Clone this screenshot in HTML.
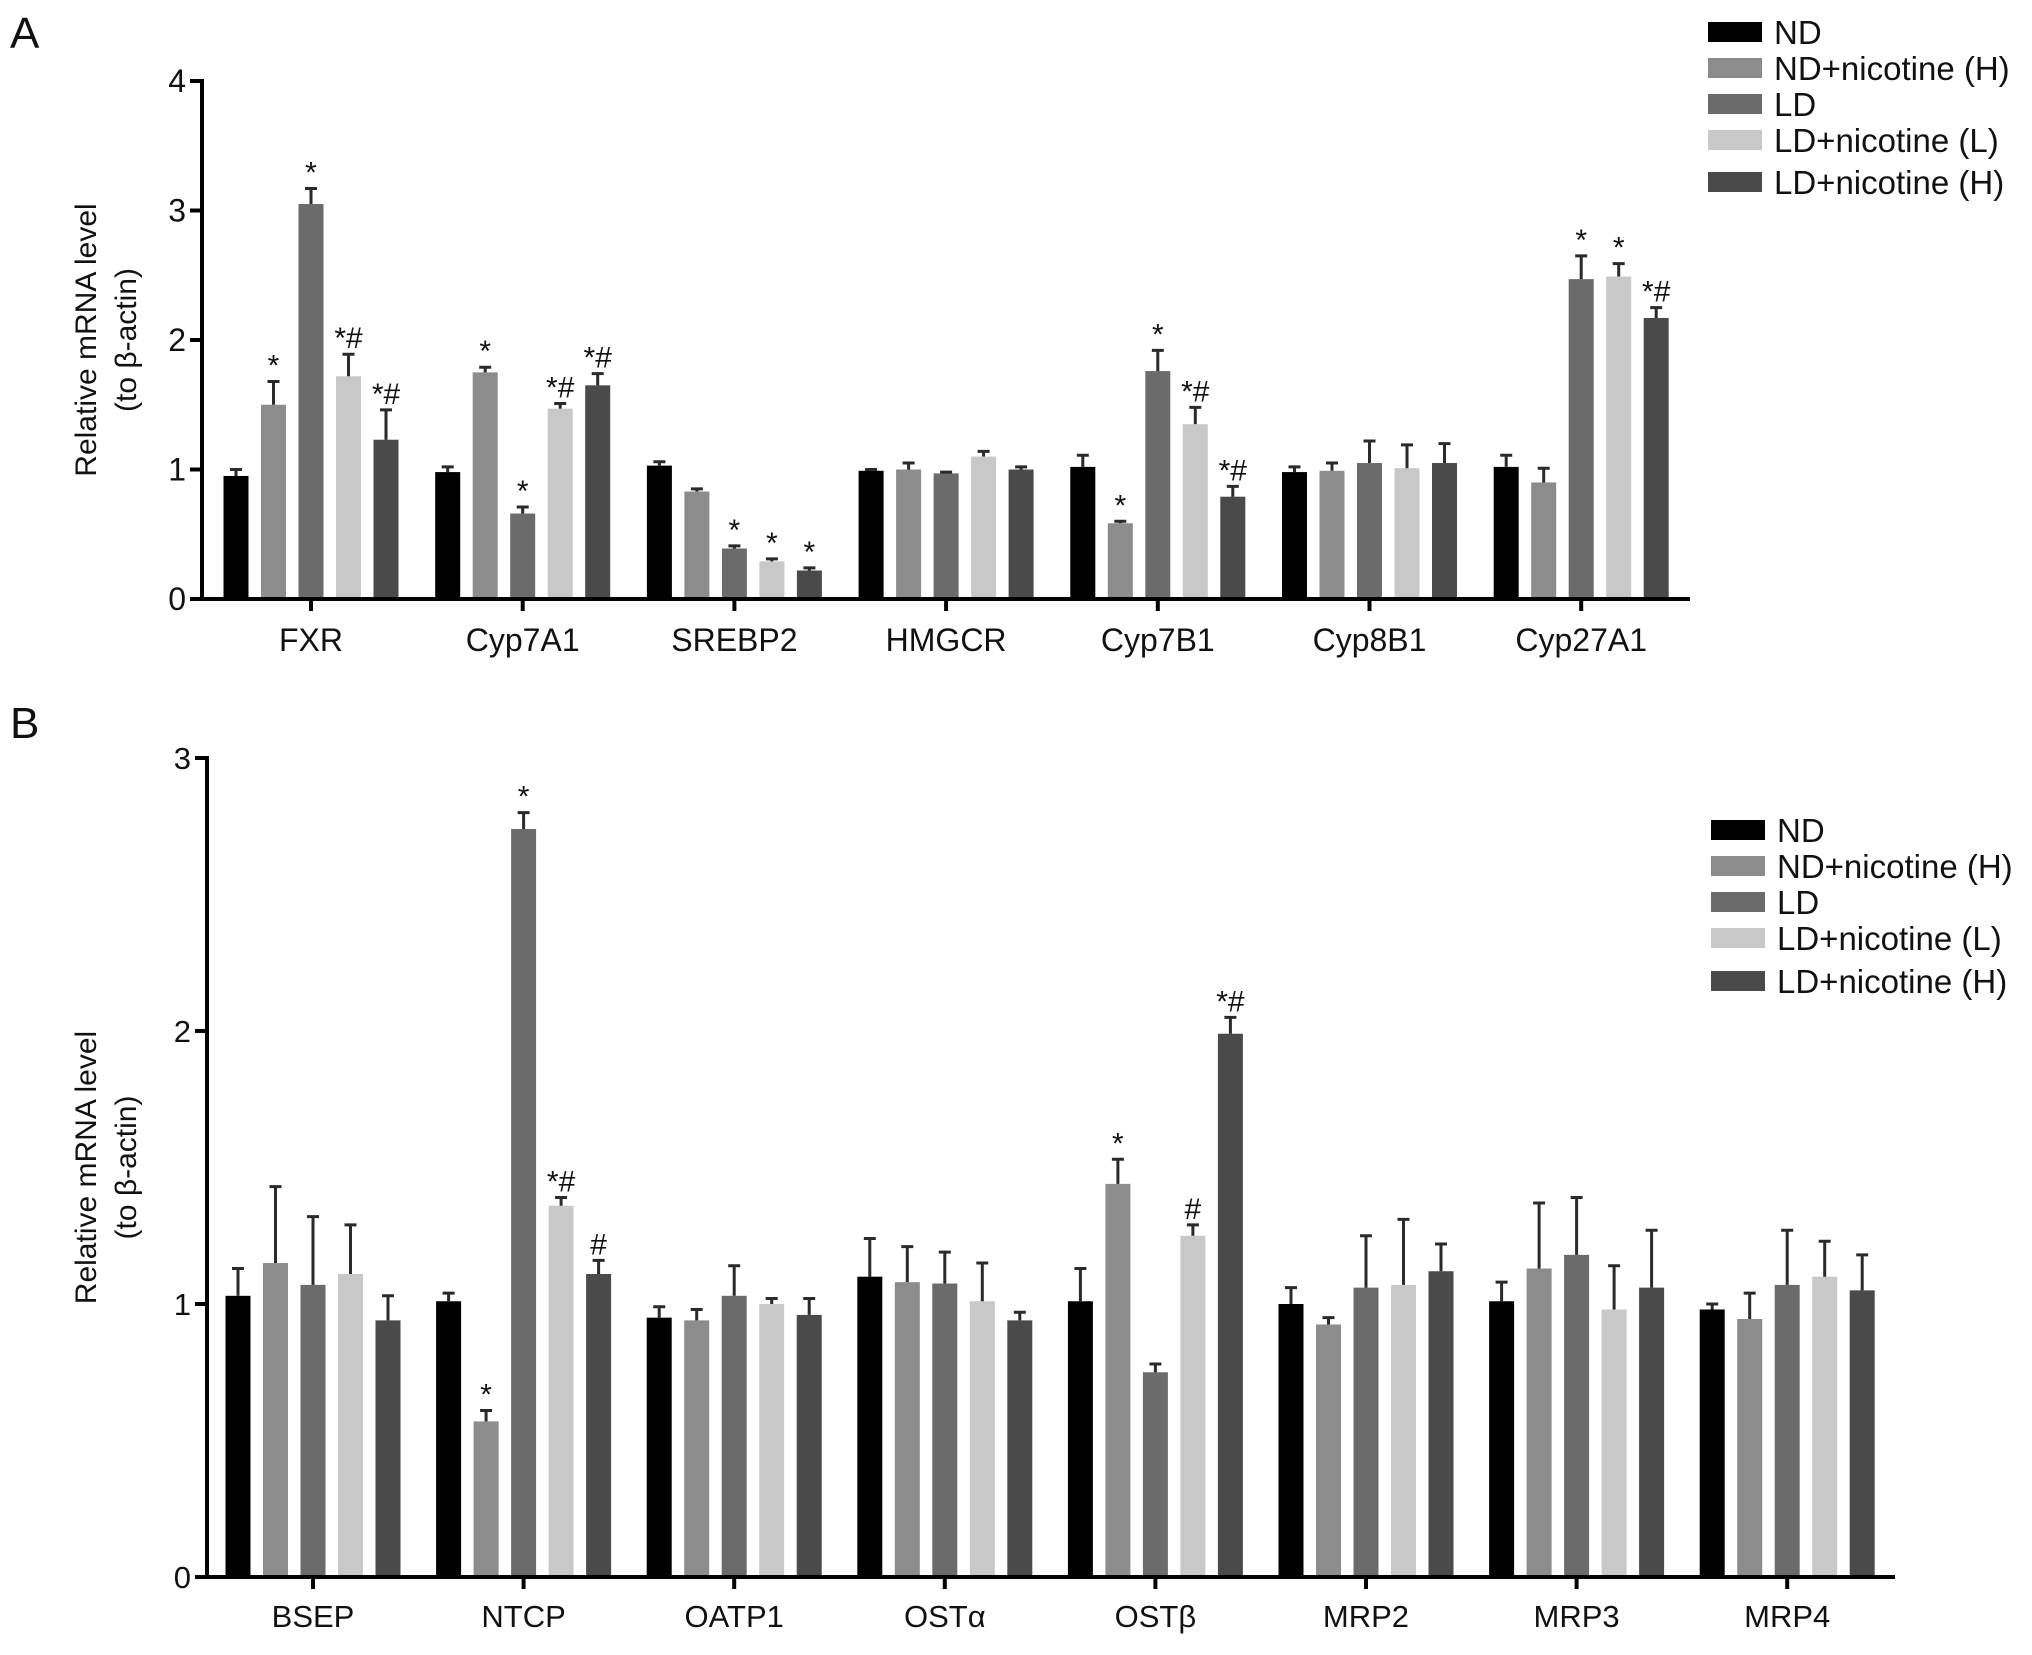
<!DOCTYPE html>
<html><head><meta charset="utf-8"><style>
html,body{margin:0;padding:0;background:#fff;}
svg{display:block;font-family:"Liberation Sans",sans-serif;}
</style></head><body>
<svg id="fig" width="2032" height="1655" viewBox="0 0 2032 1655"></svg>
<script>
const seriesNames=["ND","ND+nicotine (H)","LD","LD+nicotine (L)","LD+nicotine (H)"];
const colors=["#000000","#8c8c8c","#6b6b6b","#c8c8c8","#4a4a4a"];
const catsA=["FXR","Cyp7A1","SREBP2","HMGCR","Cyp7B1","Cyp8B1","Cyp27A1"];
const valsA=[[0.95,1.5,3.05,1.72,1.23],[0.98,1.75,0.66,1.47,1.65],[1.03,0.83,0.39,0.29,0.22],[0.99,1.0,0.97,1.1,1.0],[1.02,0.585,1.76,1.35,0.79],[0.98,0.99,1.05,1.01,1.05],[1.02,0.9,2.47,2.49,2.17]];
const errA=[[0.05,0.18,0.12,0.17,0.23],[0.04,0.04,0.05,0.04,0.09],[0.03,0.02,0.02,0.02,0.02],[0.01,0.05,0.01,0.04,0.02],[0.09,0.015,0.16,0.13,0.08],[0.04,0.06,0.17,0.18,0.15],[0.09,0.11,0.18,0.1,0.08]];
const sigA=[["","*","*","*#","*#"],["","*","*","*#","*#"],["","","*","*","*"],["","","","",""],["","*","*","*#","*#"],["","","","",""],["","","*","*","*#"]];
const ticksA=[0,1,2,3,4];
const catsB=["BSEP","NTCP","OATP1","OST\u03b1","OST\u03b2","MRP2","MRP3","MRP4"];
const valsB=[[1.03,1.15,1.07,1.11,0.94],[1.01,0.57,2.74,1.36,1.11],[0.95,0.94,1.03,1.0,0.96],[1.1,1.08,1.075,1.01,0.94],[1.01,1.44,0.75,1.25,1.99],[1.0,0.925,1.06,1.07,1.12],[1.01,1.13,1.18,0.98,1.06],[0.98,0.945,1.07,1.1,1.05]];
const errB=[[0.1,0.28,0.25,0.18,0.09],[0.03,0.04,0.06,0.03,0.05],[0.04,0.04,0.11,0.02,0.06],[0.14,0.13,0.115,0.14,0.03],[0.12,0.09,0.03,0.04,0.06],[0.06,0.025,0.19,0.24,0.1],[0.07,0.24,0.21,0.16,0.21],[0.02,0.095,0.2,0.13,0.13]];
const sigB=[["","","","",""],["","*","*","*#","#"],["","","","",""],["","","","",""],["","*","","#","*#"],["","","","",""],["","","","",""],["","","","",""]];
const ticksB=[0,1,2,3];

const NS="http://www.w3.org/2000/svg";
const svg=document.getElementById('fig');
function mk(tag,attrs,parent,text){const e=document.createElementNS(NS,tag);for(const k in attrs)e.setAttribute(k,attrs[k]);if(text!==undefined)e.textContent=text;(parent||svg).appendChild(e);return e;}

function panel(cfg){
  const g=mk('g',{});
  
  
  const y=v=>cfg.y0-(v/cfg.ymax)*(cfg.y0-cfg.ytop);
  const xc=i=>cfg.x1+i*cfg.step;
  const off=[-75,-37.5,0,37.5,75], bw=25;
  cfg.vals.forEach((row,i)=>{row.forEach((v,s)=>{
    const cx=xc(i)+off[s];
    const r=mk('rect',{x:cx-bw/2,y:y(v),width:bw,height:cfg.y0-y(v),fill:colors[s]},g);
    
    
    const et=y(v+cfg.err[i][s]);
    const eb=mk('path',{d:`M${cx} ${y(v)} V${et} M${cx-6} ${et} H${cx+6}`,stroke:'#2a2a2a','stroke-width':3,fill:'none'},g);
    
    
    const sg=cfg.sig[i][s];
    if(sg){const t=mk('text',{x:cx,y:et-6,'text-anchor':'middle','font-size':cfg.sigSize,fill:'#111'},g,sg);
      
      }
  });});
  const ax=mk('path',{d:`M${cfg.ax} ${cfg.ytop-2} V${cfg.y0} H${cfg.xend}`,stroke:'#000','stroke-width':4,fill:'none'},g);
  
  
  cfg.ticks.forEach(t=>{
    mk('line',{x1:cfg.ax-12,x2:cfg.ax,y1:y(t),y2:y(t),stroke:'#000','stroke-width':4},g);
    const tl=mk('text',{x:cfg.ax-16,y:y(t)+11,'text-anchor':'end','font-size':cfg.fs,fill:'#111'},g,String(t));
    
    
  });
  cfg.cats.forEach((c,i)=>{
    mk('line',{x1:xc(i),x2:xc(i),y1:cfg.y0,y2:cfg.y0+12,stroke:'#000','stroke-width':4},g);
    const tl=mk('text',{x:xc(i),y:cfg.y0+cfg.xlab,'text-anchor':'middle','font-size':cfg.fs,fill:'#111'},g,c);
    
    
  });
  const yc=(cfg.y0+cfg.ytop)/2;
  const t1=mk('text',{x:0,y:0,transform:`translate(96 ${yc}) rotate(-90)`,'text-anchor':'middle','font-size':cfg.tfs,fill:'#111'},g,'Relative mRNA level');
  
  
  const t2=mk('text',{x:0,y:0,transform:`translate(136 ${yc}) rotate(-90)`,'text-anchor':'middle','font-size':cfg.tfs,fill:'#111'},g,'(to \u03b2-actin)');
  
  
  cfg.legY.forEach((ly,s)=>{
    const lr=mk('rect',{x:cfg.legX,y:ly-10,width:54,height:20,fill:colors[s]},g);
    
    
    const lt=mk('text',{x:cfg.legX+66,y:ly+cfg.legFs*0.36,'font-size':cfg.legFs,fill:'#111'},g,seriesNames[s]);
    
    
  });
  const pl=mk('text',{x:10,y:cfg.labelY,'font-size':44,fill:'#111'},g,cfg.label);
  
  
}
panel({name:'panel-a',label:'A',labelY:48,cats:catsA,vals:valsA,err:errA,sig:sigA,ticks:ticksA,ymax:4,y0:599,ytop:81,ax:202,xend:1690,x1:311,step:211.7,xlab:52,fs:32,tfs:30,sigSize:30,legX:1708,legY:[32,68,104,140,182],legFs:33});
panel({name:'panel-b',label:'B',labelY:738,cats:catsB,vals:valsB,err:errB,sig:sigB,ticks:ticksB,ymax:3,y0:1577,ytop:758,ax:207,xend:1895,x1:313,step:210.6,xlab:50,fs:31,tfs:30,sigSize:30,legX:1711,legY:[830,866,902,938,981],legFs:33});
</script>
</body></html>
